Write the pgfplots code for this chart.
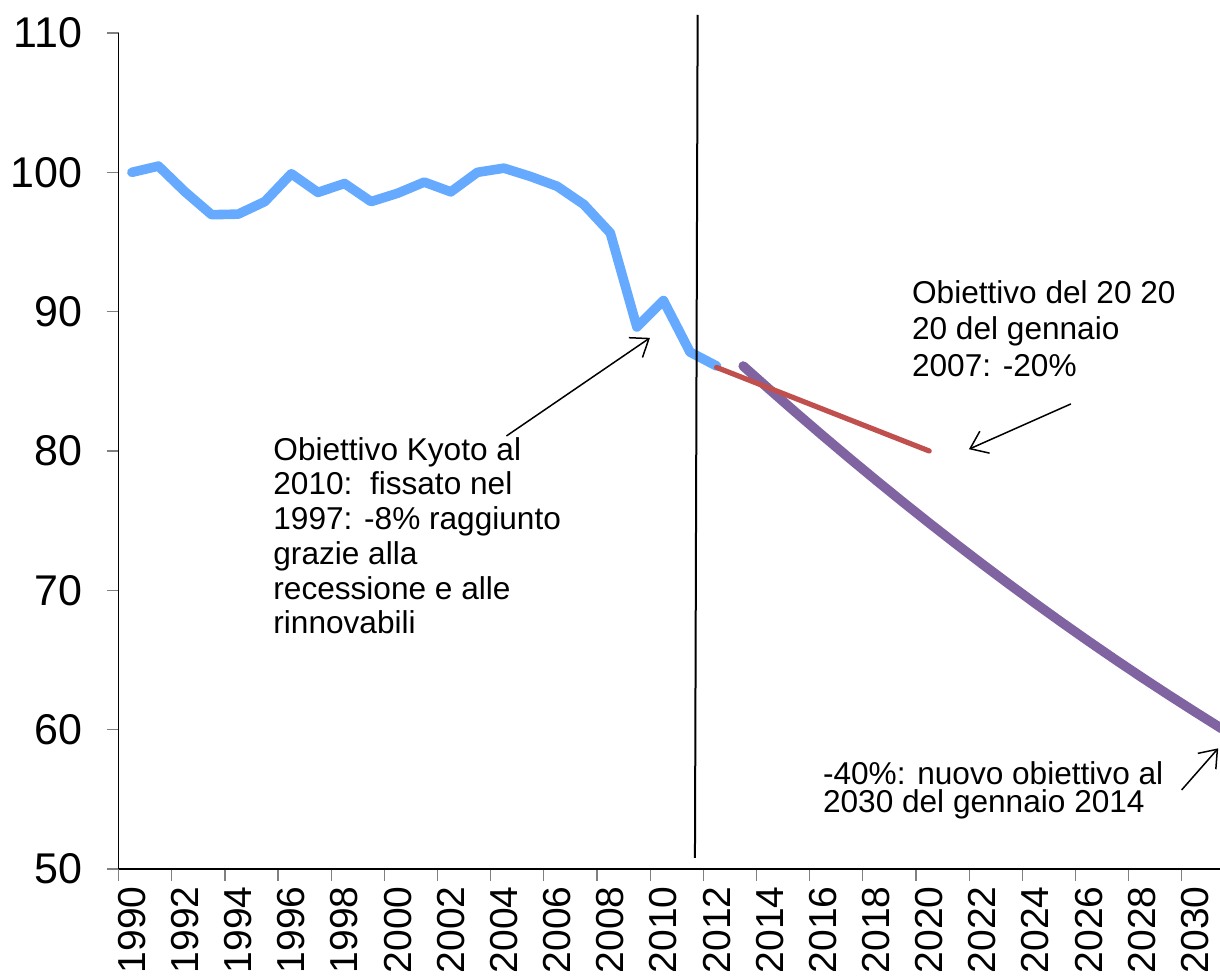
\documentclass[border=0pt]{standalone}
\usepackage{pgfplots}
\pgfplotsset{compat=1.18}
\usetikzlibrary{arrows.meta}
\usepackage{fontspec}
\setmainfont{Liberation Sans}
\definecolor{cblue}{RGB}{102,170,255}
\definecolor{cred}{RGB}{192,80,77}
\definecolor{cpurple}{RGB}{128,100,162}
\begin{document}
\begin{tikzpicture}
\useasboundingbox (0,0) rectangle (610pt,487.5pt);
\begin{axis}[
 at={(59.3pt,53pt)}, anchor=south west, scale only axis,
 width=550.7pt, height=418pt,
 xmin=1989.5, xmax=2030.94, ymin=50, ymax=110,
 axis x line=bottom, axis y line=left,
 axis line style={-, black, line width=0.65pt},
 xtick={1990,1992,...,2030},
 minor xtick={1989.5,1991.5,...,2029.5},
 major x tick style={draw=none},
 minor x tick style={gray, line width=0.6pt},
 ytick={50,60,...,110},
 y tick style={gray, line width=0.6pt},
 xtick align=outside, ytick align=outside,
 major tick length=6pt, minor tick length=6pt,
 /pgf/number format/.cd, 1000 sep={}, assume math mode=true, /pgfplots/.cd,
 yticklabel style={anchor=east, inner sep=0pt, font=\fontsize{21.5}{25}\selectfont},
 xticklabel style={rotate=90, anchor=east, inner sep=0pt, font=\fontsize{19.5}{23}\selectfont},
 xticklabel shift=2.5pt,
 yticklabel shift=12pt,
 clip mode=individual,
]
\addplot[cblue, line width=4.8pt, line join=round, line cap=round] coordinates {
(1990,100.0) (1991,100.45) (1992,98.6) (1993,96.96) (1994,97.0) (1995,97.9)
(1996,99.9) (1997,98.56) (1998,99.2) (1999,97.9) (2000,98.5) (2001,99.3)
(2002,98.6) (2003,100.0) (2004,100.3) (2005,99.7) (2006,99.0) (2007,97.7)
(2008,95.65) (2009,88.9) (2010,90.8) (2011,87.1) (2012,86.1)};
\addplot[cpurple, line width=4.8pt, line join=round, line cap=round] coordinates {
(2013,86.10) (2014,84.40) (2015,82.73) (2016,81.09) (2017,79.48) (2018,77.90)
(2019,76.35) (2020,74.83) (2021,73.34) (2022,71.88) (2023,70.45) (2024,69.05)
(2025,67.68) (2026,66.34) (2027,65.03) (2028,63.75) (2029,62.50) (2030,61.28) (2031,60.08)};
\addplot[cred, line width=2.6pt, line cap=round] coordinates {(2012,86.0) (2020,80.0)};

\draw[line width=1pt] (axis cs:2011.287,111.31) -- (axis cs:2011.185,50.79);
\draw[-{Straight Barb[length=8pt,width=12pt]}, line width=0.75pt] (axis cs:2004.093,81.08) -- (axis cs:2009.492,88.12);
\draw[-{Straight Barb[length=8pt,width=12pt]}, line width=0.75pt] (axis cs:2025.331,83.38) -- (axis cs:2021.494,80.13);
\draw[-{Straight Barb[length=8pt,width=12pt]}, line width=0.75pt] (axis cs:2029.495,55.67) -- (axis cs:2030.872,58.66);

\node[anchor=north west, inner sep=0pt, align=left, font=\fontsize{15.8}{17.35}\selectfont] at (axis cs:1995.31,81.01)
 {Obiettivo Kyoto al\\2010:\ \ fissato nel\\1997: -8\% raggiunto\\grazie alla\\recessione e alle\\rinnovabili};
\node[anchor=north west, inner sep=0pt, align=left, font=\fontsize{15.8}{18.35}\selectfont] at (axis cs:2019.34,92.28)
 {Obiettivo del 20 20\\20 del gennaio\\2007: -20\%};
\node[anchor=north west, inner sep=0pt, align=left, font=\fontsize{15.8}{14}\selectfont] at (axis cs:2015.99,57.75)
 {-40\%: nuovo obiettivo al\\2030 del gennaio 2014};
\end{axis}
\end{tikzpicture}
\end{document}
